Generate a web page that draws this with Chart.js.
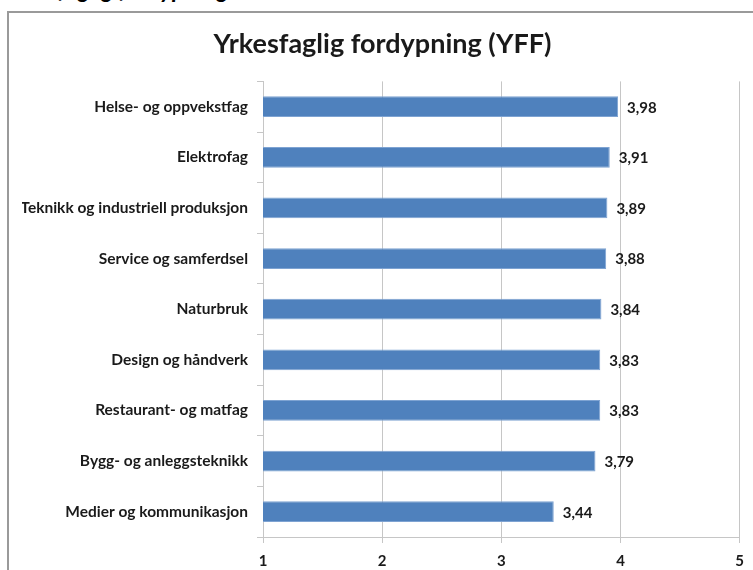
<!DOCTYPE html>
<html>
<head>
<meta charset="utf-8">
<script src="https://cdn.jsdelivr.net/npm/chart.js@4"></script>
<style>
  html, body { margin: 0; padding: 0; background: #fff; overflow: hidden; }
  body { width: 753px; height: 570px; position: relative; }
  .page-head {
    position: absolute; left: 4px; top: -23px;
    font: italic bold 24px Lato, sans-serif; line-height: 24px; color: #000;
    white-space: nowrap;
  }
  .chart-box {
    position: absolute; left: 7px; top: 11px; width: 760px; height: 580px;
    border: 2px solid #9a9a9a; box-sizing: border-box; background: #fff;
  }
  #yff-chart { position: absolute; left: 0; top: 0; }
</style>
</head>
<body>
<div class="page-head">Yrkesfaglig fordypning</div>
<div class="chart-box"></div>
<canvas id="yff-chart" width="753" height="570"></canvas>
<script>
  const categories = [
    'Helse- og oppvekstfag',
    'Elektrofag',
    'Teknikk og industriell produksjon',
    'Service og samferdsel',
    'Naturbruk',
    'Design og håndverk',
    'Restaurant- og matfag',
    'Bygg- og anleggsteknikk',
    'Medier og kommunikasjon',
  ];
  const values = [3.98, 3.91, 3.89, 3.88, 3.84, 3.83, 3.83, 3.79, 3.44];
  const xTicks = [1, 2, 3, 4, 5];

  const fontFamily = 'Lato, "Open Sans", sans-serif';
  const textColor = '#1a1a1a';

  // etiketter ved enden av søylene
  const valueLabels = {
    id: 'valueLabels',
    afterDatasetsDraw(chart) {
      const ctx = chart.ctx;
      const meta = chart.getDatasetMeta(0);
      ctx.save();
      ctx.font = 'bold 15px ' + fontFamily;
      ctx.fillStyle = textColor;
      ctx.textAlign = 'left';
      ctx.textBaseline = 'middle';
      meta.data.forEach((bar, i) => {
        const txt = values[i].toFixed(2).replace('.', ',');
        ctx.fillText(txt, bar.x + 9, bar.y + 1);
      });
      ctx.restore();
    },
  };

  function createChart(canvas) {
    return new Chart(canvas, {
      type: 'bar',
      data: {
        labels: categories,
        datasets: [
          {
            data: values,
            backgroundColor: '#4f81bd',
            borderColor: '#7ea3d2',
            borderWidth: 1,
            barPercentage: 0.41,
            categoryPercentage: 1,
          },
        ],
      },
      options: {
        indexAxis: 'y',
        responsive: false,
        animation: false,
        layout: { padding: { left: 22, right: 10, top: 0, bottom: 2 } },
        plugins: {
          legend: { display: false },
          tooltip: { enabled: false },
          title: {
            display: true,
            text: 'Yrkesfaglig fordypning (YFF)',
            color: textColor,
            font: { family: fontFamily, size: 27, weight: 'bold' },
            padding: { top: 28, bottom: 21 },
          },
        },
        scales: {
          x: {
            min: 1,
            max: 5,
            afterBuildTicks: (scale) => {
              scale.ticks = xTicks.map((v) => ({ value: v }));
            },
            afterFit: (scale) => {
              scale.height = 31;
            },
            grid: { color: '#c6c6c6', lineWidth: 1, tickLength: 6 },
            border: { color: '#c6c6c6' },
            ticks: {
              color: textColor,
              padding: 9,
              font: { family: fontFamily, size: 15, weight: 'bold' },
            },
          },
          y: {
            afterFit: (scale) => {
              scale.width = 241;
            },
            grid: {
              drawOnChartArea: false,
              color: '#c6c6c6',
              tickLength: 6,
            },
            border: { color: '#c6c6c6' },
            ticks: {
              color: textColor,
              padding: 9,
              font: { family: fontFamily, size: 15.5, weight: 'bold' },
            },
          },
        },
      },
      plugins: [valueLabels],
    });
  }

  createChart(document.getElementById('yff-chart'));
</script>
</body>
</html>
